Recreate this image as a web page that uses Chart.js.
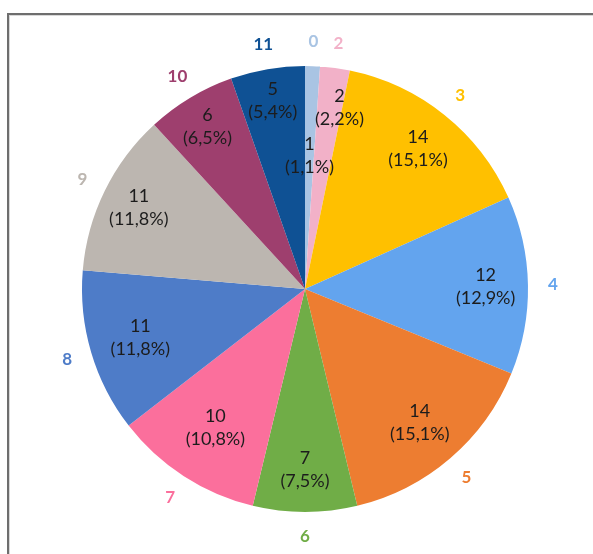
<!DOCTYPE html>
<html lang="pt-br">
<head>
<meta charset="UTF-8">
<title>Pizza</title>
<script src="https://cdn.jsdelivr.net/npm/chart.js"></script>
<style>
    body { margin: 0; background: #fff; overflow: hidden; }
    .moldura {
        position: absolute; left: 7px; top: 13px; width: 700px; height: 700px;
        border-left: 2px solid #6e6e6e; border-top: 2px solid #6e6e6e;
        box-shadow: inset 1px 1px 0 #d8d8d8;
    }
    #grafico { position: absolute; left: 0; top: 0; }
</style>
</head>
<body>
<div class="moldura"></div>
<canvas id="grafico" width="593" height="554"></canvas>

<script>
    // dados
    const categorias = ['0', '2', '3', '4', '5', '6', '7', '8', '9', '10', '11'];
    const quantidades = [1, 2, 14, 12, 14, 7, 10, 11, 11, 6, 5];
    const percentuais = ['1,1%', '2,2%', '15,1%', '12,9%', '15,1%', '7,5%', '10,8%', '11,8%', '11,8%', '6,5%', '5,4%'];

    const cores = ['#A9C4E3', '#F2B1C8', '#FFC000', '#63A4EE', '#ED7D31', '#70AD47',
        '#FB6F9C', '#4E7CC8', '#BCB6B0', '#9E3F6E', '#0F5194'];
    // distância do rótulo interno (fração do raio) e pequeno desvio de ângulo (graus)
    const raioRotulo = [0.6, 0.83, 0.81, 0.81, 0.79, 0.81, 0.74, 0.77, 0.83, 0.85, 0.86];
    const desvioRotulo = [0, 3, 0, 0, 0, 0, 0, 0, 0, 0, 0];

    const rotulos = {
        id: 'rotulos',
        afterDatasetsDraw(chart) {
            const ctx = chart.ctx;
            const arcos = chart.getDatasetMeta(0).data;
            ctx.save();
            ctx.textAlign = 'center';
            ctx.textBaseline = 'middle';
            arcos.forEach((arco, i) => {
                const meio = (arco.startAngle + arco.endAngle) / 2;
                const r = arco.outerRadius;
                // rótulo interno
                const ai = meio + desvioRotulo[i] * Math.PI / 180;
                const ri = r * raioRotulo[i];
                const xi = arco.x + Math.cos(ai) * ri;
                const yi = arco.y + Math.sin(ai) * ri;
                ctx.fillStyle = '#1c1c1c';
                ctx.font = '18px Lato';
                ctx.fillText(quantidades[i], xi, yi - 11);
                ctx.fillText('(' + percentuais[i] + ')', xi, yi + 12);
                // nome da categoria fora
                const re = r + 25;
                const xe = arco.x + Math.cos(meio) * re;
                const ye = arco.y + Math.sin(meio) * re;
                ctx.fillStyle = cores[i];
                ctx.font = 'bold 17px Lato';
                ctx.fillText(categorias[i], xe, ye);
            });
            ctx.restore();
        }
    };

    new Chart(document.getElementById('grafico'), {
        type: 'pie',
        data: {
            labels: categorias,
            datasets: [{
                data: quantidades,
                backgroundColor: cores,
                borderWidth: 0
            }]
        },
        options: {
            responsive: false,
            animation: false,
            layout: { padding: { left: 82, right: 65, top: 66, bottom: 42 } },
            plugins: {
                legend: { display: false },
                tooltip: { enabled: false }
            }
        },
        plugins: [rotulos]
    });
</script>
</body>
</html>
